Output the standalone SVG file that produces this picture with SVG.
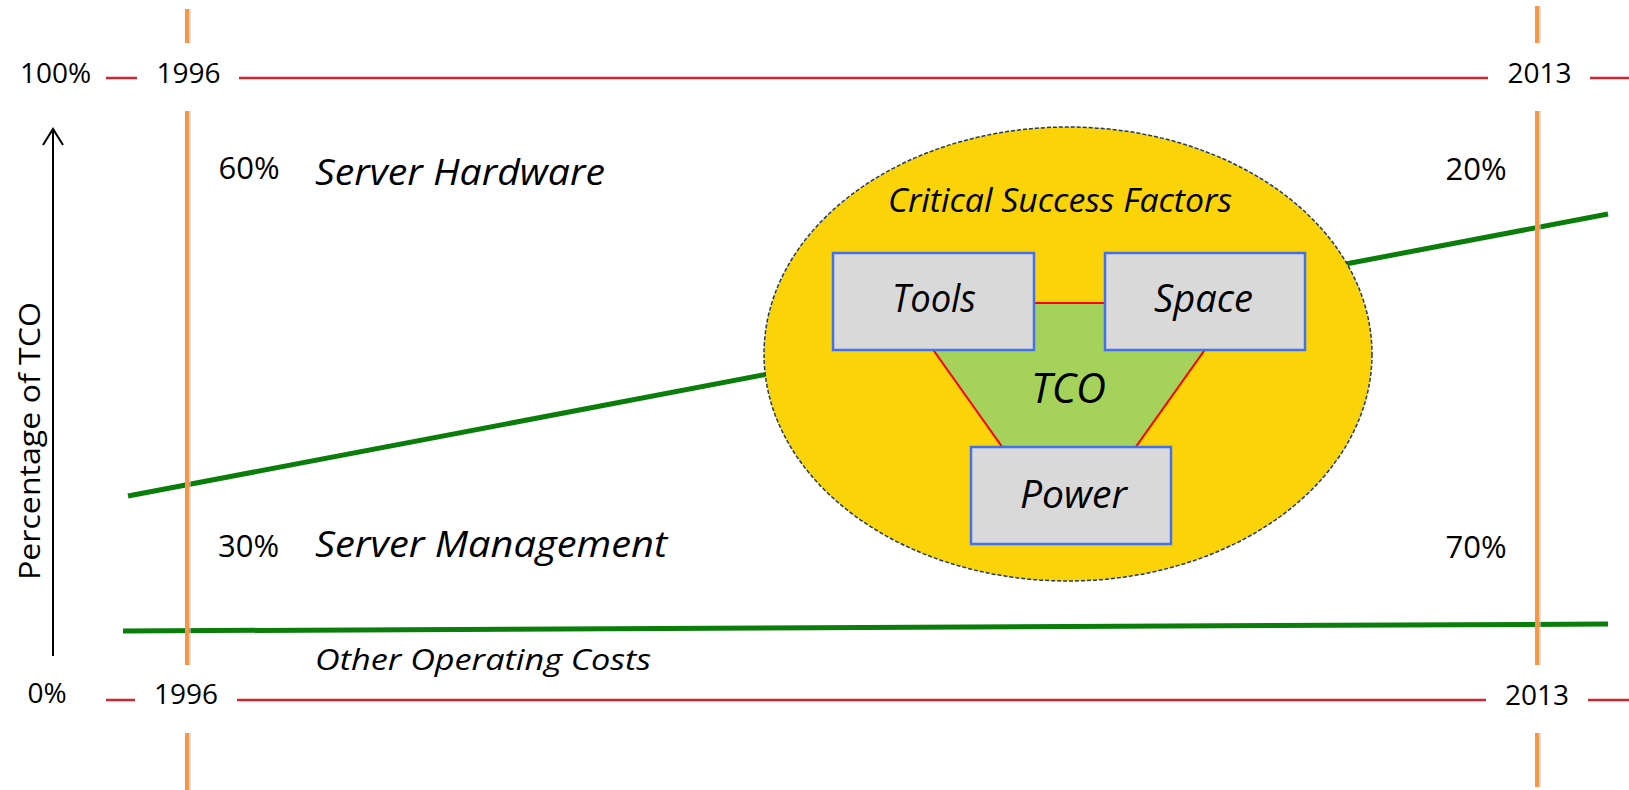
<svg xmlns="http://www.w3.org/2000/svg" width="1629" height="790" viewBox="0 0 1629 790">
<style>
.t{font-family:"Open Sans","Liberation Sans",sans-serif;fill:#000}
.yr{font-size:28px;text-anchor:middle}
.pc{font-size:31px;text-anchor:middle}
.it{font-style:italic}
.red{stroke:#D0262D;stroke-width:2.6;fill:none}
.org{stroke:#F79646;stroke-width:4;fill:none}
.shd{stroke:#C8C8C8;stroke-width:3;fill:none;opacity:.6}
.grn{stroke:#0A7D0A;stroke-width:5;fill:none}
.box{fill:#D9D9D9;stroke:#4472EE;stroke-width:2.5}
</style>
<rect width="1629" height="790" fill="#fff"/>
<g id="connectors">
  <g id="greenlines">
    <line class="grn" x1="128" y1="496" x2="1608" y2="214"/>
    <line class="grn" x1="123" y1="631" x2="1608" y2="624"/>
  </g>
  <g id="yearlines">
    <path class="shd" d="M189.5 9V43M189.5 111V665M189.5 733V790M1539.5 6V43M1539.5 111V665M1539.5 733V787"/>
    <path class="org" d="M187 9V43M187 111V665M187 733V790M1537 6V43M1537 111V665M1537 733V787"/>
  </g>
  <g id="scalelines">
    <path class="red" d="M106 78H137M239 78H1488M1590 78H1629"/>
    <path class="red" d="M106 700H135M237 700H1486M1588 700H1629"/>
  </g>
  <g id="axis">
    <line x1="53" y1="656" x2="53" y2="129" stroke="#000" stroke-width="2"/>
    <polyline points="43,145 53,129 63,145" fill="none" stroke="#000" stroke-width="2"/>
  </g>
</g>
<g id="labels">
  <text class="t yr" x="55.5" y="83">100%</text>
  <text class="t yr" x="188.5" y="83">1996</text>
  <text class="t yr" x="1539.5" y="83">2013</text>
  <text class="t yr" x="47" y="703">0%</text>
  <text class="t yr" x="186" y="704">1996</text>
  <text class="t yr" x="1537" y="705">2013</text>
  <text class="t pc" x="249" y="179">60%</text>
  <text class="t pc" x="248.5" y="557">30%</text>
  <text class="t pc" x="1476" y="180">20%</text>
  <text class="t pc" x="1476" y="558">70%</text>
  <text class="t it" x="315" y="185" font-size="37" textLength="290" lengthAdjust="spacingAndGlyphs">Server Hardware</text>
  <text class="t it" x="315" y="557" font-size="37" textLength="352" lengthAdjust="spacingAndGlyphs">Server Management</text>
  <text class="t it" x="315" y="670" font-size="29" textLength="336" lengthAdjust="spacingAndGlyphs">Other Operating Costs</text>
  <text class="t" transform="translate(40 441) rotate(-90)" font-size="30" text-anchor="middle" textLength="278" lengthAdjust="spacingAndGlyphs">Percentage of TCO</text>
</g>
<g id="csf">
  <ellipse cx="1068" cy="354" rx="304" ry="227" fill="#FAD408" stroke="#1F3A6E" stroke-width="1.5" stroke-dasharray="4 2"/>
  <text class="t it" x="1060" y="212" font-size="32" text-anchor="middle" textLength="344" lengthAdjust="spacingAndGlyphs">Critical Success Factors</text>
</g>
<g id="tco">
  <polygon points="900,303 1238,303 1069,541" fill="#A5D25A" stroke="#FF0000" stroke-width="2"/>
  <text class="t it" x="1068.5" y="403" font-size="42" text-anchor="middle" textLength="75" lengthAdjust="spacingAndGlyphs">TCO</text>
</g>
<g id="tools">
  <rect class="box" x="833" y="253" width="201" height="97"/>
  <text class="t it" x="934" y="312" font-size="38" text-anchor="middle" textLength="84" lengthAdjust="spacingAndGlyphs">Tools</text>
</g>
<g id="space">
  <rect class="box" x="1105" y="253" width="200" height="97"/>
  <text class="t it" x="1203.5" y="312" font-size="38" text-anchor="middle" textLength="99" lengthAdjust="spacingAndGlyphs">Space</text>
</g>
<g id="power">
  <rect class="box" x="971" y="447" width="200" height="97"/>
  <text class="t it" x="1073.5" y="508" font-size="38" text-anchor="middle" textLength="107" lengthAdjust="spacingAndGlyphs">Power</text>
</g>
</svg>
